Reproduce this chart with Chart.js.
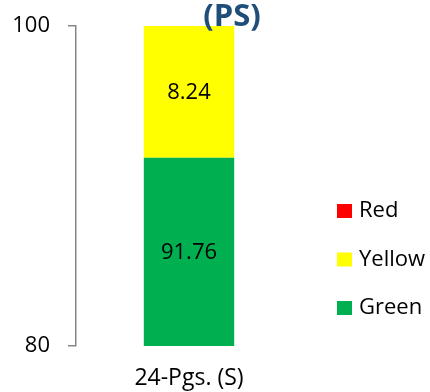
<!DOCTYPE html>
<html><head><meta charset="utf-8">
<script src="https://cdn.jsdelivr.net/npm/chart.js@4"></script>
<style>html,body{margin:0;padding:0;background:#fff;overflow:hidden}#wrap{width:430px;height:392px;position:relative}</style>
</head><body><div id="wrap"><canvas id="c"></canvas></div>
<script>
const categories = ['24-Pgs. (S)'];
const greenValues = [91.76];
const yellowValues = [8.24];
const redValues = [0];
const yTickValues = [80, 100];
const chartTitle = '(PS)';

const FONT = "'Open Sans', 'Noto Sans', sans-serif";

// Value labels centred on the visible part of each stacked segment
const segmentLabels = {
  id: 'segmentLabels',
  afterDatasetsDraw(chart) {
    const ctx = chart.ctx, area = chart.chartArea;
    ctx.save();
    ctx.font = '22px ' + FONT;
    ctx.fillStyle = '#000';
    ctx.textAlign = 'center';
    ctx.textBaseline = 'middle';
    chart.data.datasets.forEach((ds, di) => {
      const meta = chart.getDatasetMeta(di);
      meta.data.forEach((bar, i) => {
        const v = ds.data[i];
        if (!v) return;
        const top = Math.max(Math.min(bar.y, bar.base), area.top);
        const bottom = Math.min(Math.max(bar.y, bar.base), area.bottom);
        if (bottom - top < 4) return;
        ctx.fillText(v.toFixed(2), bar.x, (top + bottom) / 2 + 1);
      });
    });
    ctx.restore();
  }
};

// Title and legend drawn beside the plot
const sideDecor = {
  id: 'sideDecor',
  afterDraw(chart) {
    const ctx = chart.ctx, area = chart.chartArea;
    ctx.save();
    ctx.font = 'bold 31px ' + FONT;
    ctx.fillStyle = '#1F4E79';
    ctx.textAlign = 'center';
    ctx.textBaseline = 'alphabetic';
    ctx.fillText(chartTitle, area.right - 70, area.top);

    const items = chart.data.datasets.slice().reverse();
    ctx.font = '22px ' + FONT;
    ctx.textAlign = 'left';
    ctx.textBaseline = 'middle';
    const x0 = area.right + 35;
    let y = area.top + 185;
    items.forEach(ds => {
      ctx.fillStyle = ds.backgroundColor;
      ctx.fillRect(x0, y - 7, 15, 14);
      ctx.fillStyle = '#000';
      ctx.fillText(ds.label, x0 + 22, y);
      y += 48.5;
    });
    ctx.restore();
  }
};

new Chart(document.getElementById('c'), {
  type: 'bar',
  data: {
    labels: categories,
    datasets: [
      { label: 'Green', data: greenValues, backgroundColor: '#00B050' },
      { label: 'Yellow', data: yellowValues, backgroundColor: '#FFFF00' },
      { label: 'Red', data: redValues, backgroundColor: '#FF0000' }
    ]
  },
  options: {
    responsive: true,
    maintainAspectRatio: false,
    animation: false,
    layout: { padding: { left: 0, right: 128, top: 26, bottom: 0 } },
    datasets: { bar: { categoryPercentage: 1, barPercentage: 0.4, borderWidth: 0 } },
    plugins: { legend: { display: false }, tooltip: { enabled: false }, title: { display: false } },
    scales: {
      x: {
        stacked: true,
        afterFit(scale) { scale.height = 46; },
        grid: { display: false, drawTicks: false },
        border: { display: false },
        ticks: { color: '#000', font: { family: FONT, size: 23 }, padding: 19 }
      },
      y: {
        stacked: true,
        min: 80, max: 100,
        afterFit(scale) { scale.width = 76; scale.paddingTop = 0; },
        afterBuildTicks(scale) { scale.ticks = yTickValues.map(v => ({ value: v })); },
        grid: { drawOnChartArea: false, tickLength: 8, tickColor: '#868686', lineWidth: 1.5 },
        border: { display: true, color: '#868686', width: 1.5 },
        ticks: { color: '#000', font: { family: FONT, size: 22 }, padding: 18 }
      }
    }
  },
  plugins: [segmentLabels, sideDecor]
});
</script>
</body></html>
